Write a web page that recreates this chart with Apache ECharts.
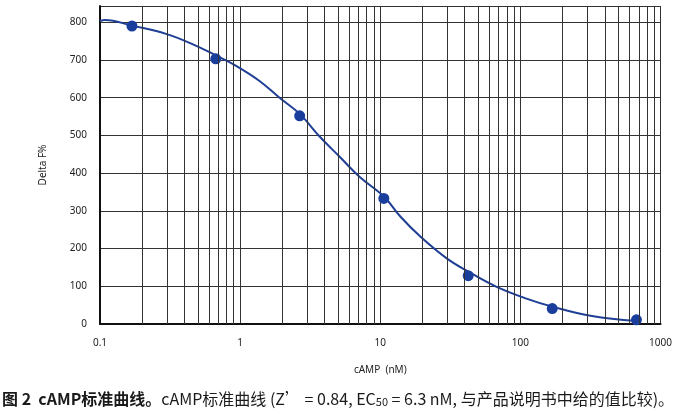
<!DOCTYPE html>
<html>
<head>
<meta charset="utf-8">
<script src="https://cdn.jsdelivr.net/npm/echarts@6/dist/echarts.min.js"></script>
<style>html,body{margin:0;padding:0;background:#fff}#c{width:675px;height:419px}</style>
</head>
<body>
<div id="c"></div>
<script>
// measured points (cAMP nM, Delta F%)
var pointX = [0.169, 0.67, 2.66, 10.6, 42.4, 168.7, 673];
var pointY = [790, 703, 552, 333, 128, 41, 11];
// fitted curve
var curveX = [0.1, 0.1085, 0.169, 0.296, 0.469, 0.679, 0.949, 1.39, 1.92, 2.66, 3.69, 5.11, 7.07, 10.6, 13.9, 19.3, 29.8, 42.4, 67.1, 109, 169, 324, 673];
var curveY = [803, 806, 791, 769, 740, 711, 683, 643, 599, 557, 497, 444, 391, 338, 285, 232, 174, 139, 99, 68, 46, 21, 8];
var xTicks = [0.1, 1, 10, 100, 1000];
var yTicks = [0, 100, 200, 300, 400, 500, 600, 700, 800];

var minorLines = [];
[0.1, 1, 10, 100].forEach(function (d) {
  for (var m = 2; m <= 9; m++) minorLines.push({ xAxis: +(d * m).toPrecision(3) });
});

var FONT = 'Noto Sans';
var chart = echarts.init(document.getElementById('c'), null, { renderer: 'canvas' });
chart.setOption({
  animation: false,
  backgroundColor: '#fff',
  grid: { left: 100, right: 9, top: 6, bottom: 95 },
  xAxis: {
    type: 'log', logBase: 10, min: 0.1, max: 1000,
    name: 'cAMP  (nM)', nameLocation: 'middle', nameGap: 41,
    nameTextStyle: { fontFamily: FONT, fontSize: 10, color: '#222' },
    axisLine: { show: true, onZero: false, lineStyle: { color: '#111', width: 2 } },
    axisTick: { show: false },
    axisLabel: { fontFamily: FONT, fontSize: 10, color: '#222', margin: 14,
      formatter: function (v) { return xTicks.indexOf(+v) >= 0 ? String(+v) : ''; } },
    splitLine: { show: true, lineStyle: { color: '#333', width: 1 } }
  },
  yAxis: {
    type: 'value', min: 0, max: 843, interval: 100,
    name: 'Delta F%', nameLocation: 'middle', nameGap: 52,
    nameTextStyle: { fontFamily: FONT, fontSize: 10, color: '#222' },
    axisLine: { show: true, lineStyle: { color: '#111', width: 2 } },
    axisTick: { show: false },
    axisLabel: { fontFamily: FONT, fontSize: 10, color: '#222', margin: 13,
      formatter: function (v) { return yTicks.indexOf(v) >= 0 ? String(v) : ''; } },
    splitLine: { show: true, lineStyle: { color: '#333', width: 1 } }
  },
  series: [
    {
      type: 'line', data: [], z: 1, silent: true,
      markLine: { silent: true, symbol: 'none', label: { show: false },
        lineStyle: { color: '#333', width: 1, type: 'solid' }, data: minorLines }
    },
    {
      type: 'line', z: 3, smooth: 0.4, showSymbol: false,
      data: curveX.map(function (x, i) { return [x, curveY[i]]; }),
      lineStyle: { color: '#1f3f96', width: 2 }
    },
    {
      type: 'scatter', z: 4, symbolSize: 11,
      data: pointX.map(function (x, i) { return [x, pointY[i]]; }),
      itemStyle: { color: '#1a3e9c', opacity: 1 }
    }
  ],
  graphic: [{
    type: 'text', left: 2, top: 391,
    style: {
      text: '{b|图 2  cAMP标准曲线。}{n|cAMP标准曲线 (Z’ = 0.84, EC}{s|50}{n| = 6.3 nM, 与产品说明书中给的值比较)。}',
      rich: {
        b: { fontFamily: 'Noto Sans CJK SC', fontSize: 16, fontWeight: 'bold', fill: '#1a1a1a' },
        n: { fontFamily: 'Noto Sans CJK SC', fontSize: 16, fill: '#1a1a1a' },
        s: { fontFamily: 'Noto Sans CJK SC', fontSize: 11, fill: '#1a1a1a', padding: [5, 0, 0, 0] }
      }
    }
  }]
});
</script>
</body>
</html>
